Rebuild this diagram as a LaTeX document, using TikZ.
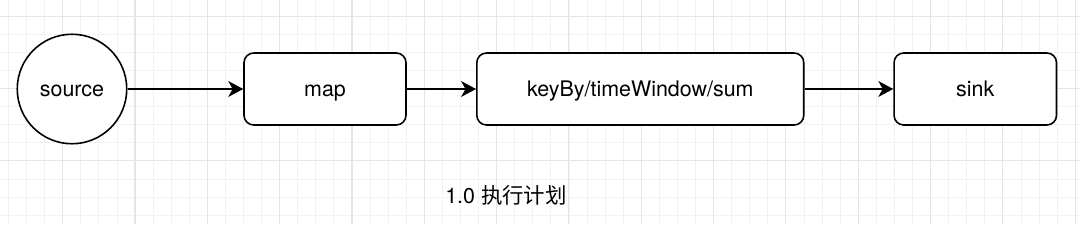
\documentclass[tikz,border=0pt]{standalone}
\usepackage{fontspec}
\setmainfont{TeX Gyre Heros}
\newfontfamily\cjk{Noto Sans CJK SC}
\usetikzlibrary{arrows.meta}
\tikzset{
  label text/.style={text height=11pt, text depth=2pt},
  opbox/.style={draw, line width=0.9pt, rounded corners=5.5pt, minimum width=3.24cm, minimum height=1.44cm, inner sep=0pt, label text},
  flow/.style={line width=0.9pt, -{Stealth[length=8.5pt,width=9pt,inset=2.5pt]}}
}
\begin{document}
\begin{tikzpicture}[x=0.02cm,y=0.02cm,font=\fontsize{12.2}{14}\selectfont]
\useasboundingbox (0,0) rectangle (1080,224);
\fill[white] (0,0) rectangle (1080,224);
% grid
\foreach \i in {0,...,59} {
  \draw[black!5, line width=0.5pt] ({8.46+18.08*\i},0) -- ({8.46+18.08*\i},224);
}
\foreach \j in {0,...,11} {
  \draw[black!5, line width=0.5pt] (0,{8.9+18.08*\j}) -- (1080,{8.9+18.08*\j});
}
\foreach \i in {-1,...,14} {
  \draw[black!10, line width=0.6pt] ({62.7+72.32*\i},0) -- ({62.7+72.32*\i},224);
}
\foreach \j in {0,1,2} {
  \draw[black!10, line width=0.6pt] (0,{63.2+72.32*\j}) -- (1080,{63.2+72.32*\j});
}
% nodes
\node[draw, circle, line width=0.9pt, fill=white, minimum size=2.19cm, inner sep=0pt, label text] (source) at (72,135) {source};
\node[opbox, fill=white] (map) at (325,135) {map};
\node[opbox, fill=white, minimum width=6.54cm] (window) at (640.3,135) {keyBy/timeWindow/sum};
\node[opbox, fill=white, minimum width=3.25cm] (sink) at (975.3,135) {sink};
\node (caption) at (506,29) {1.0 {\cjk 执行计划}};
% connectors
\draw[flow] (source) -- (map);
\draw[flow] (map) -- (window);
\draw[flow] (window) -- (sink);
\end{tikzpicture}
\end{document}
